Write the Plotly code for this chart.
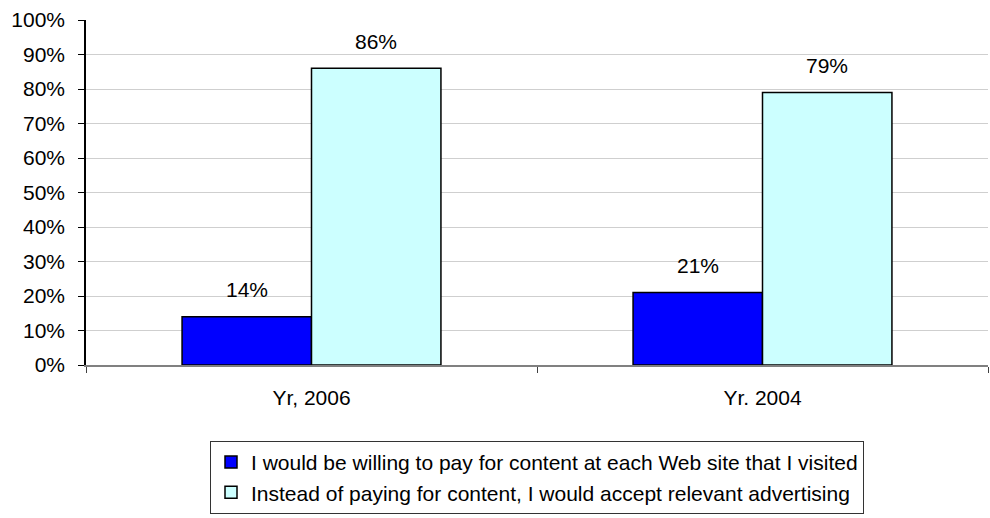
import plotly.graph_objects as go

# Survey results: willingness to pay for web content vs. accepting advertising
years = ["Yr, 2006", "Yr. 2004"]
series_names = [
    "I would be willing to pay for content at each Web site that I visited",
    "Instead of paying for content, I would accept relevant advertising",
]
pay_share = [0.14, 0.21]
ads_share = [0.86, 0.79]
series_values = [pay_share, ads_share]
series_colors = ["#0000FF", "#CCFFFF"]

FONT = "Liberation Sans, Arial, sans-serif"
FS = 21
BARGAP = 0.426

fig = go.Figure()
for name, vals, color in zip(series_names, series_values, series_colors):
    fig.add_trace(go.Bar(
        x=years, y=vals, name=name,
        marker=dict(color=color, line=dict(color="black", width=1.5)),
    ))

# value labels above each bar, placed over the bar's slot within its group
n = len(series_values)
slot = (1 - BARGAP) / n
for i, vals in enumerate(series_values):
    offset = -(1 - BARGAP) / 2 + slot * (i + 0.5)
    for j, v in enumerate(vals):
        fig.add_annotation(
            x=j + offset, y=v, xref="x", yref="y",
            text=f"{round(v * 100)}%", showarrow=False,
            yanchor="middle", yshift=27,
            font=dict(family=FONT, size=FS, color="black"),
        )

fig.update_layout(
    width=990, height=518,
    margin=dict(l=86, r=2, t=20, b=153),
    paper_bgcolor="white", plot_bgcolor="white",
    barmode="group", bargap=BARGAP, bargroupgap=0,
    font=dict(family=FONT, size=FS, color="black"),
    showlegend=True,
    legend=dict(
        orientation="v", x=0.5, xanchor="center", y=-0.22, yanchor="top",
        xref="paper", yref="paper",
        bordercolor="#333333", borderwidth=1, bgcolor="white",
        font=dict(family=FONT, size=FS, color="black"),
        traceorder="normal", itemwidth=30, tracegroupgap=0,
    ),
    xaxis=dict(
        type="category", showline=True, linecolor="#808080", linewidth=1.5,
        ticks="outside", tickson="boundaries", ticklen=6, tickcolor="#404040",
        showgrid=False, tickfont=dict(family=FONT, size=FS, color="black"),
        ticklabelstandoff=13,
    ),
    yaxis=dict(
        range=[0, 1], dtick=0.1, tickformat=".0%",
        showline=True, linecolor="black", linewidth=1.5,
        ticks="outside", ticklen=6, tickcolor="black",
        showgrid=True, gridcolor="#CFCFCF", gridwidth=1,
        zeroline=False, tickfont=dict(family=FONT, size=FS, color="black"),
        ticklabelstandoff=9,
    ),
)

fig.write_html("out.html")
